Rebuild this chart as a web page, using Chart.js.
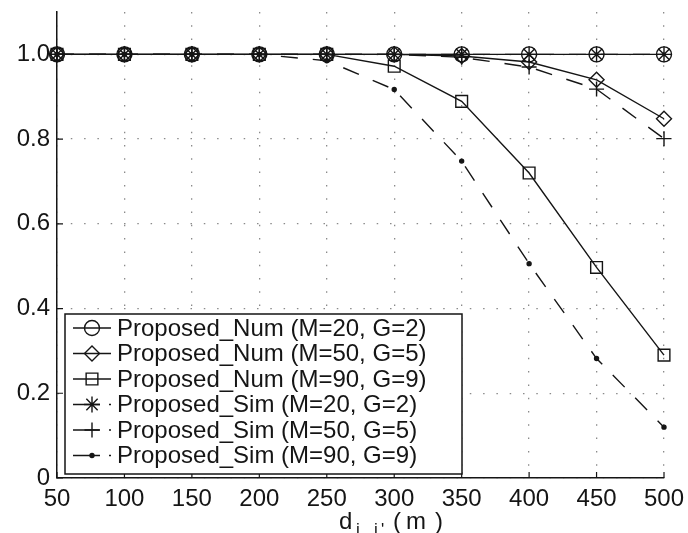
<!DOCTYPE html>
<html>
<head>
<meta charset="utf-8">
<script src="https://cdn.jsdelivr.net/npm/chart.js@4.4.1/dist/chart.umd.min.js"></script>
<style>
  html, body { margin: 0; padding: 0; background: #fff; }
  #wrap { width: 688px; height: 533px; }
</style>
</head>
<body>
<div id="wrap"><canvas id="chart" width="688" height="533"></canvas></div>
<script>
// distance d_{i,i'} in metres
const distances = [50, 100, 150, 200, 250, 300, 350, 400, 450, 500];

// analytical (Num) and simulated (Sim) curves
const numM20 = [1, 1, 1, 1, 1, 1, 1, 1, 1, 1];
const numM50 = [1, 1, 1, 1, 1, 1, 0.996, 0.982, 0.94, 0.848];
const numM90 = [1, 1, 1, 1, 1, 0.972, 0.889, 0.72, 0.497, 0.29];
const simM20 = [1, 1, 1, 1, 1, 1, 1, 1, 1, 1];
const simM50 = [1, 1, 1, 1, 1, 1, 0.993, 0.97, 0.918, 0.801];
const simM90 = [1, 1, 1, 1, 0.985, 0.917, 0.748, 0.506, 0.282, 0.12];

const seriesNames = [
  "Proposed_Num (M=20, G=2)",
  "Proposed_Num (M=50, G=5)",
  "Proposed_Num (M=90, G=9)",
  "Proposed_Sim (M=20, G=2)",
  "Proposed_Sim (M=50, G=5)",
  "Proposed_Sim (M=90, G=9)"
];

const yTickValues = [0, 0.2, 0.4, 0.6, 0.8, 1.0];
const xTickValues = distances;

const INK = "#151515";
const FONT = "'Liberation Sans', Arial, Helvetica, sans-serif";
const DASH = [17, 15];

function pts(arr){ return distances.map((x, i) => ({ x, y: arr[i] })); }

function series(label, arr, style, radius, dashed, filled){
  return {
    label,
    data: pts(arr),
    borderColor: INK,
    borderWidth: 1.4,
    borderDash: dashed ? DASH : [],
    tension: 0,
    fill: false,
    clip: false,
    pointStyle: style,
    pointRadius: radius,
    pointHoverRadius: radius,
    pointBorderColor: INK,
    pointBorderWidth: 1.4,
    pointBackgroundColor: filled ? INK : "rgba(0,0,0,0)"
  };
}

const datasets = [
  series(seriesNames[0], numM20, "circle", 7.5, false, false),
  series(seriesNames[1], numM50, "rectRot", 7.5, false, false),
  series(seriesNames[2], numM90, "rect", 8.3, false, false),
  series(seriesNames[3], simM20, "star", 8, true, false),
  series(seriesNames[4], simM50, "cross", 7.5, true, false),
  series(seriesNames[5], simM90, "circle", 2, true, true)
];

// inward tick marks, boxed legend with line samples, x-axis label with subscript
const extras = {
  id: "extras",
  afterDraw(chart){
    const ctx = chart.ctx;
    const { left, bottom } = chart.chartArea;
    const xs = chart.scales.x, ys = chart.scales.y;

    ctx.save();
    ctx.strokeStyle = INK;
    ctx.lineWidth = 1.2;
    ctx.beginPath();
    xTickValues.forEach(v => {
      const px = xs.getPixelForValue(v);
      ctx.moveTo(px, bottom); ctx.lineTo(px, bottom - 6);
    });
    yTickValues.forEach(v => {
      const py = ys.getPixelForValue(v);
      ctx.moveTo(left, py); ctx.lineTo(left + 6, py);
    });
    ctx.stroke();

    // legend
    const box = { x: 65, y: 314, w: 397, h: 160 };
    ctx.fillStyle = "#fff";
    ctx.fillRect(box.x, box.y, box.w, box.h);
    ctx.lineWidth = 1.5;
    ctx.strokeRect(box.x, box.y, box.w, box.h);

    ctx.font = "24px " + FONT;
    ctx.textBaseline = "middle";
    chart.data.datasets.forEach((ds, i) => {
      const cy = 328 + i * 25.5;
      ctx.save();
      ctx.strokeStyle = INK;
      ctx.lineWidth = 1.4;
      ctx.setLineDash(ds.borderDash.length ? [27, 9] : []);
      ctx.beginPath();
      ctx.moveTo(73, cy); ctx.lineTo(111, cy);
      ctx.stroke();
      ctx.restore();

      ctx.save();
      ctx.fillStyle = ds.pointBackgroundColor;
      ctx.strokeStyle = INK;
      ctx.lineWidth = ds.pointBorderWidth;
      Chart.helpers.drawPoint(ctx, {
        pointStyle: ds.pointStyle,
        radius: ds.pointRadius,
        rotation: 0,
        borderWidth: ds.pointBorderWidth
      }, 92, cy);
      ctx.restore();

      ctx.fillStyle = INK;
      ctx.fillText(ds.label, 117, cy + 1);
    });

    // axis title: d_{i, i'} (m)
    ctx.fillStyle = INK;
    ctx.textBaseline = "alphabetic";
    ctx.font = "24px " + FONT;
    ctx.fillText("d", 339, 529);
    ctx.fillText("(", 393, 529);
    ctx.fillText("m", 406, 529);
    ctx.fillText(")", 435, 529);
    ctx.font = "17px " + FONT;
    ctx.fillText("i", 356, 535);
    ctx.fillText(",", 362, 535);
    ctx.fillText("i", 374, 535);
    ctx.fillText("'", 381, 535);
    ctx.restore();
  }
};

new Chart(document.getElementById("chart"), {
  type: "line",
  data: { datasets },
  options: {
    responsive: false,
    animation: false,
    events: [],
    layout: { padding: { top: 12, right: 24, left: 0, bottom: 0 } },
    plugins: { legend: { display: false }, tooltip: { enabled: false } },
    scales: {
      x: {
        type: "linear",
        min: 50, max: 500,
        afterFit(scale){ scale.height = 55; scale.paddingLeft = 0; scale.paddingRight = 0; },
        afterBuildTicks(scale){ scale.ticks = xTickValues.map(v => ({ value: v })); },
        ticks: { color: INK, font: { family: FONT, size: 24 }, padding: 7, maxRotation: 0, autoSkip: false },
        grid: { color: "#8a8a8a", lineWidth: 1.3, drawTicks: false },
        border: { display: true, color: INK, width: 1.5, dash: [1.5, 11.8] }
      },
      y: {
        min: 0, max: 1.1,
        afterFit(scale){ scale.width = 57; scale.paddingTop = 0; scale.paddingBottom = 0; },
        afterBuildTicks(scale){ scale.ticks = yTickValues.map(v => ({ value: v })); },
        ticks: {
          color: INK, font: { family: FONT, size: 24 }, padding: 7,
          callback: v => v === 0 ? "0" : v.toFixed(1)
        },
        grid: { color: "#8a8a8a", lineWidth: 1.3, drawTicks: false },
        border: { display: true, color: INK, width: 1.5, dash: [1.5, 11.8] }
      }
    }
  },
  plugins: [extras]
});
</script>
</body>
</html>
